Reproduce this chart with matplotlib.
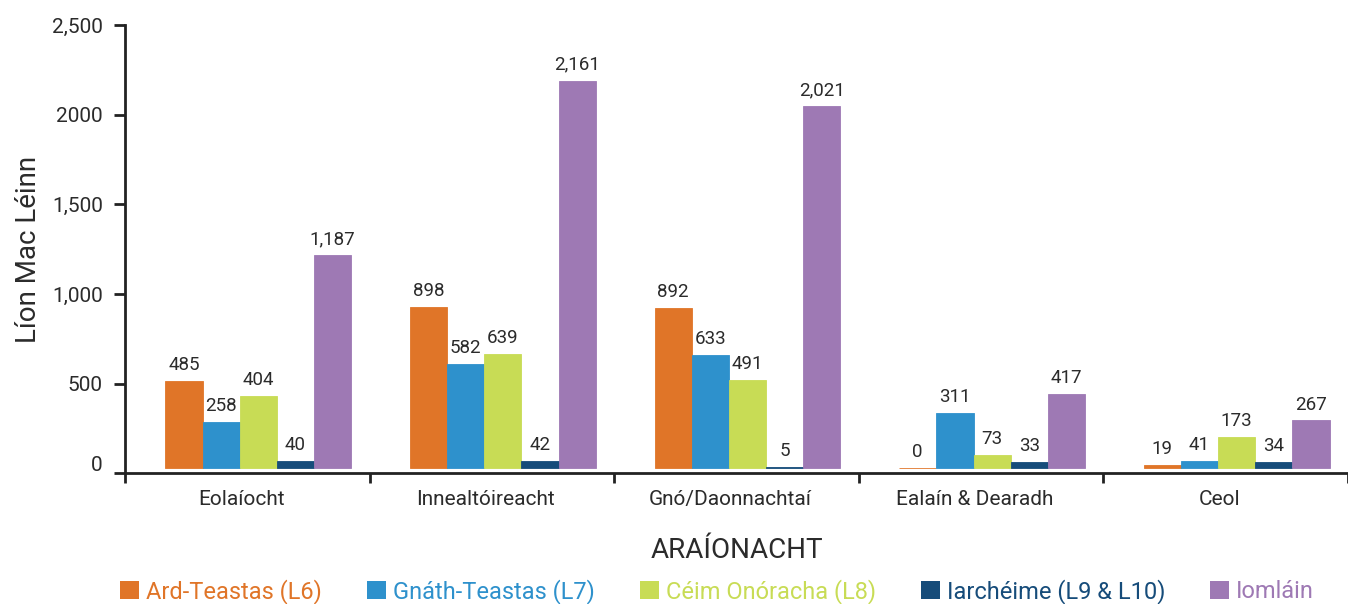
import numpy as np
import matplotlib.pyplot as plt
from matplotlib.patches import Patch
from matplotlib.transforms import ScaledTranslation

categories = ["Eolaíocht", "Innealtóireacht", "Gnó/Daonnachtaí", "Ealaín & Dearadh", "Ceol"]
series_names = ["Ard-Teastas (L6)", "Gnáth-Teastas (L7)", "Céim Onóracha (L8)",
                "Iarchéime (L9 & L10)", "Iomláin"]
ard = [485, 898, 892, 0, 19]
gnath = [258, 582, 633, 311, 41]
ceim = [404, 639, 491, 73, 173]
iarch = [40, 42, 5, 33, 34]
iomlain = [1187, 2161, 2021, 417, 267]
yticks = [0, 500, 1000, 1500, 2000, 2500]
ytick_labels = ["0", "500", "1,000", "1,500", "2000", "2,500"]

colors = ["#E07528", "#2E91CC", "#C8DC55", "#164C7A", "#9E79B4"]
txt = "#2b2b2b"

plt.rcParams['font.family'] = ['Roboto', 'DejaVu Sans']

fig = plt.figure(figsize=(13.48, 6.04), dpi=100)
ax = fig.add_axes([0.0927, 0.2163, 0.9073, 0.7423])

x = np.arange(len(categories))
w = 0.152
base = 28  # bars sit slightly above the axis line in the original
shift = 0.045
for k, vals in enumerate([ard, gnath, ceim, iarch, iomlain]):
    pos = x + shift + (k - 2) * w
    ax.bar(pos, vals, w, bottom=base, color=colors[k], edgecolor=colors[k], linewidth=0.6)
    for p, v in zip(pos, vals):
        ax.annotate(f"{v:,}", (p, v + base), xytext=(0, 5), textcoords="offset points",
                    ha="center", va="bottom", fontsize=13.5, color=txt)

ax.set_ylim(0, 2500)
ax.set_xlim(-0.5, 4.457)
ax.set_yticks(yticks)
ax.set_yticklabels(ytick_labels, fontsize=15, color=txt)
ax.set_xticks(np.arange(len(categories) + 1) - 0.5)
ax.set_xticklabels([])
ax.set_xticks(x - 0.025, minor=True)
ax.set_xticklabels(categories, minor=True, fontsize=15, color=txt)
ax.tick_params(axis="x", which="minor", length=0, pad=12)
ax.tick_params(axis="x", which="major", length=7, width=2, color="#222222")
ax.tick_params(axis="y", length=8, width=2, color="#222222", pad=8)

# the "0" label sits a little above its tick in the original
zero_lbl = ax.get_yticklabels()[0]
zero_lbl.set_transform(zero_lbl.get_transform() + ScaledTranslation(0, 10 / 100, fig.dpi_scale_trans))

for s in ["top", "right"]:
    ax.spines[s].set_visible(False)
for s in ["left", "bottom"]:
    ax.spines[s].set_linewidth(2)
    ax.spines[s].set_color("#222222")

ax.set_ylabel("Líon Mac Léinn", fontsize=20, color=txt, labelpad=7)
ax.set_xlabel("ARAÍONACHT", fontsize=20, color=txt, labelpad=20)

handles = [Patch(facecolor=c, edgecolor="none") for c in colors]
leg = fig.legend(handles, series_names, loc="lower center", bbox_to_anchor=(0.532, -0.035),
                 ncol=5, frameon=False, fontsize=17, handlelength=0.8, handleheight=0.8,
                 handletextpad=0.3, columnspacing=1.9)
for t, c in zip(leg.get_texts(), colors):
    t.set_color(c)

fig.savefig("out.png", dpi=100)
